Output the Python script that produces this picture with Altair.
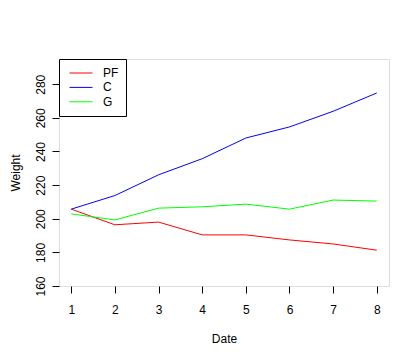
import altair as alt
import pandas as pd

dates = [1, 2, 3, 4, 5, 6, 7, 8]
pf = [205.7, 196.4, 198.0, 190.4, 190.4, 187.4, 185.0, 181.3]
c = [205.7, 213.8, 226.1, 235.7, 248.0, 254.6, 263.9, 274.8]
g = [202.9, 199.3, 206.3, 207.1, 208.7, 205.7, 211.1, 210.5]
series = ["PF", "C", "G"]
colors = ["#FF0000", "#0000FF", "#00FF00"]
y_ticks = [160, 180, 200, 220, 240, 260, 280]

rows = []
for name, vals in zip(series, [pf, c, g]):
    for d, v in zip(dates, vals):
        rows.append({"Date": d, "Weight": v, "Group": name})
df = pd.DataFrame(rows)

FONT = "Liberation Sans"

chart = alt.Chart(df).mark_line(strokeWidth=1).encode(
    x=alt.X("Date:Q",
            scale=alt.Scale(domain=[0.72, 8.28], nice=False, zero=False),
            axis=alt.Axis(values=dates, format="d", title="Date",
                          domain=False, ticks=True, tickColor="black",
                          tickSize=7, labelPadding=11, labelAngle=0,
                          labelFontSize=12, labelColor="black",
                          titleFontSize=12, titleFontWeight="normal",
                          titleColor="black", titlePadding=18, grid=False)),
    y=alt.Y("Weight:Q",
            scale=alt.Scale(domain=[160, 295], nice=False, zero=False),
            axis=alt.Axis(values=y_ticks, title="Weight",
                          domain=False, ticks=True, tickColor="black",
                          tickSize=7, labelPadding=5, labelAngle=270,
                          labelAlign="center", labelBaseline="bottom",
                          labelFontSize=12, labelColor="black",
                          titleFontSize=12, titleFontWeight="normal",
                          titleColor="black", titlePadding=12, grid=False)),
    color=alt.Color("Group:N",
                    scale=alt.Scale(domain=series, range=colors),
                    sort=series,
                    legend=alt.Legend(title=None, orient="none",
                                      legendX=0, legendY=0,
                                      strokeColor="black", fillColor="white",
                                      padding=7, symbolType="stroke",
                                      symbolSize=529, symbolStrokeWidth=1,
                                      symbolOffset=3, clipHeight=14,
                                      labelFontSize=12, labelColor="black",
                                      labelOffset=10, rowPadding=0.4)),
    detail="Group:N",
).properties(
    width=330, height=227,
    autosize=alt.AutoSizeParams(type="none"),
    padding={"left": 51, "top": 51, "right": 20, "bottom": 60},
).configure_view(
    stroke="black", strokeWidth=1
).configure(
    font=FONT
)

chart.save("out.html", embed_options={"renderer": "svg", "actions": False})
